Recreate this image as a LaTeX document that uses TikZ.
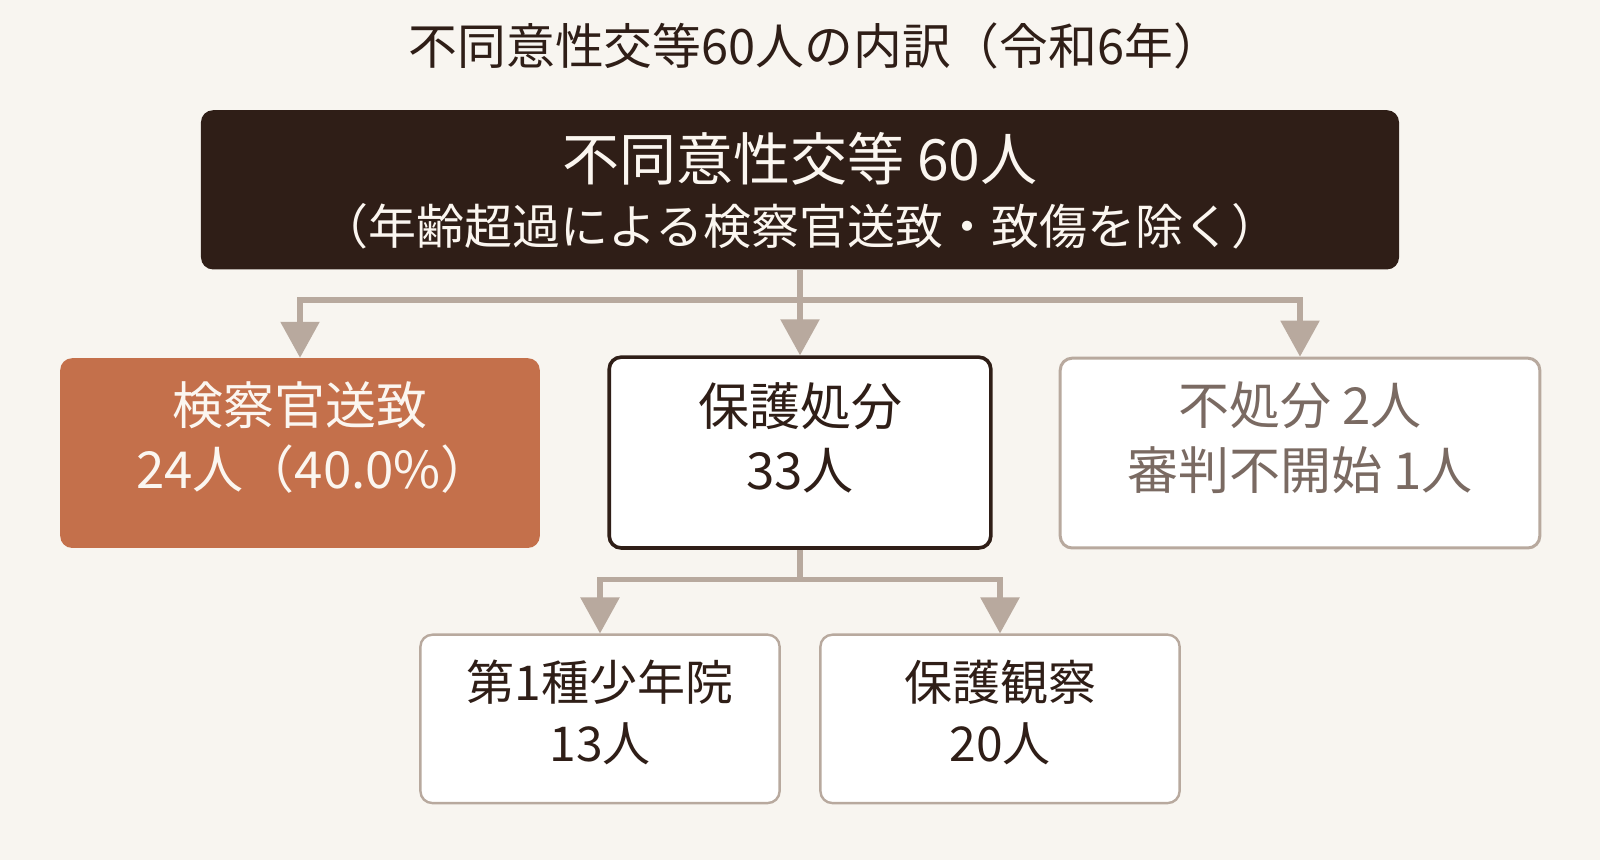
\documentclass[tikz,border=0pt]{standalone}
\usepackage{fontspec}
\setmainfont{Noto Sans CJK JP}
\usetikzlibrary{arrows.meta}

\definecolor{bgcol}{HTML}{F8F5F0}
\definecolor{darkbrown}{HTML}{2F1E17}
\definecolor{rust}{HTML}{C4704B}
\definecolor{linecol}{HTML}{B8A99E}
\definecolor{softtext}{HTML}{7A6A62}
\definecolor{lighttext}{HTML}{FBF6F0}

\begin{document}
\begin{tikzpicture}[x=0.5102pt,y=-0.5102pt,
        every node/.style={inner sep=0pt,align=center},
        box/.style={draw=linecol,line width=1.2pt,fill=white,rounded corners=6pt},
        conn/.style={draw=linecol,line width=2.8pt,-{Triangle[width=19pt,length=18pt]}},
        big/.style={font=\fontsize{25.5pt}{32.1pt}\selectfont},
        small/.style={font=\fontsize{24pt}{30.6pt}\selectfont}]

    \useasboundingbox[fill=bgcol] (0,0) rectangle (1568,843);

    % title
    \node[font=\fontsize{24.4pt}{28pt}\selectfont,text=darkbrown] (title) at (787,45)
        {不同意性交等60人の内訳（令和6年）\hspace{-0.5em}};

    % top
    \node[fill=darkbrown,rounded corners=6pt,minimum width=599pt,minimum height=79.6pt] (total) at (784,186) {};
    \node[text=lighttext,font=\fontsize{24pt}{32.1pt}\selectfont] (totaltxt) at (784,187)
        {{\fontsize{28.5pt}{28.5pt}\selectfont 不同意性交等 60人}\\（年齢超過による検察官送致・致傷を除く）};

    % level 1
    \node[fill=rust,rounded corners=6pt,minimum width=239.8pt,minimum height=94.9pt] (kensatsu) at (294,444) {};
    \node[big,text=lighttext] (kensatsutxt) at (294,429) {検察官送致\\24人（40.0\%）\kern-0.55em};

    \node[box,draw=darkbrown,line width=1.8pt,minimum width=190.8pt,minimum height=95.4pt] (hogo) at (784,443.5) {};
    \node[big,text=darkbrown] (hogotxt) at (784,429) {保護処分\\33人};

    \node[box,line width=1.5pt,minimum width=239.8pt,minimum height=94.9pt] (fusho) at (1274,444) {};
    \node[big,text=softtext] (fushotxt) at (1274,429) {不処分 2人\\審判不開始 1人};

    % level 2
    \node[box,minimum width=179.6pt,minimum height=84.2pt] (shonenin) at (588,704.5) {};
    \node[small,text=darkbrown] (shoneninTxt) at (588,698) {第1種少年院\\13人};

    \node[box,minimum width=179.6pt,minimum height=84.2pt] (kansatsu) at (980,704.5) {};
    \node[small,text=darkbrown] (kansatsuTxt) at (980,698) {保護観察\\20人};

    % connectors
    \coordinate (split1) at (784,294);
    \coordinate (split2) at (784,568);
    \draw[conn] (total.south) -- (hogo.north);
    \draw[conn] (split1) -| (kensatsu.north);
    \draw[conn] (split1) -| (fusho.north);
    \draw[conn] (hogo.south) -- (split2) -| (shonenin.north);
    \draw[conn] (split2) -| (kansatsu.north);
\end{tikzpicture}
\end{document}
